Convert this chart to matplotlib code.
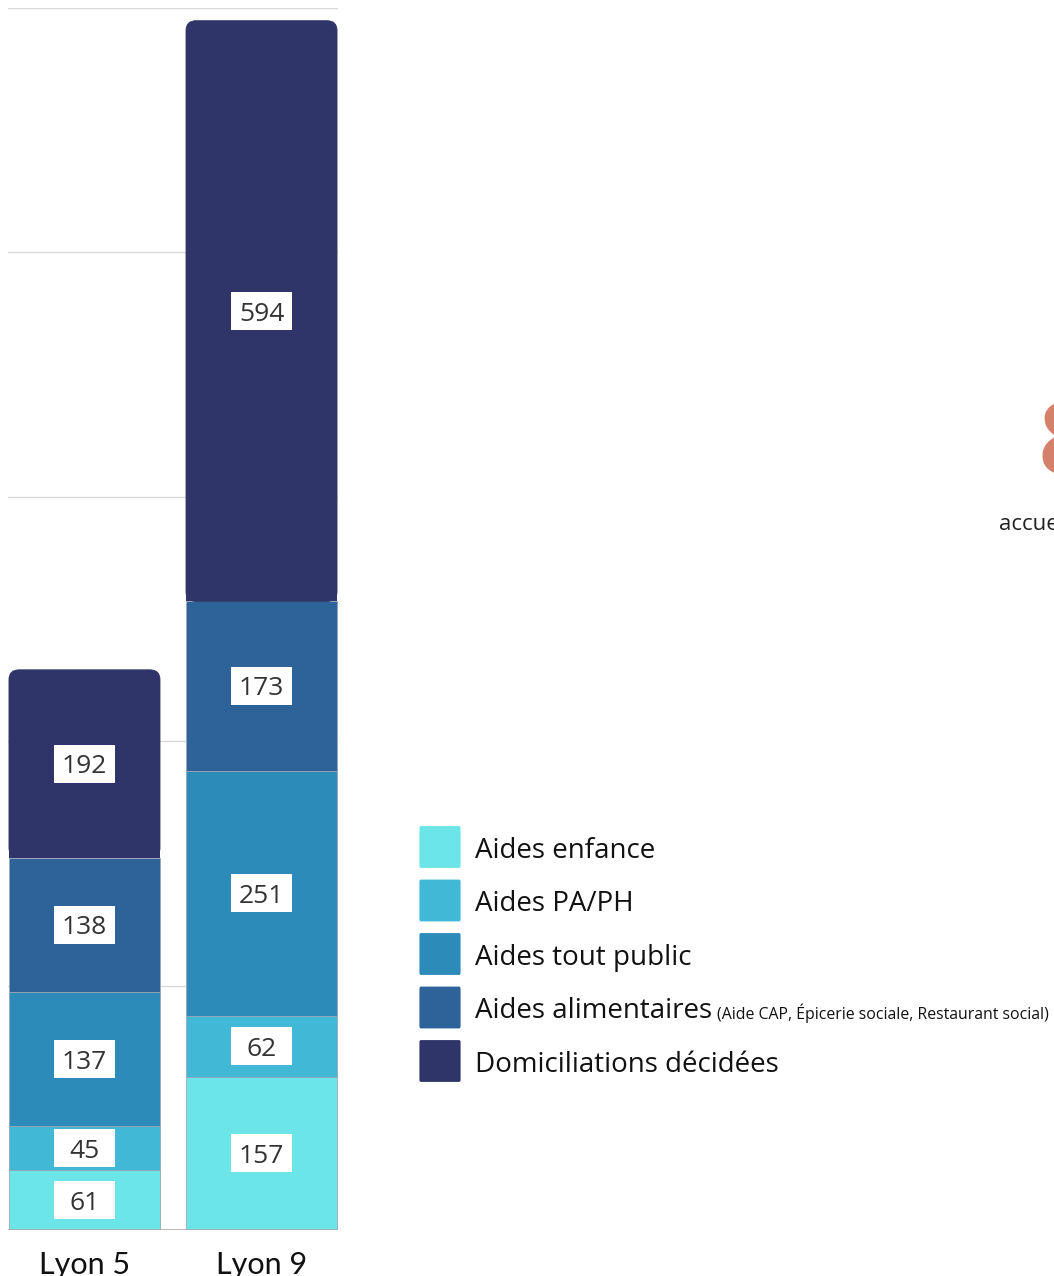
import numpy as np
import matplotlib.pyplot as plt
from matplotlib.patches import FancyBboxPatch, Rectangle

# data
sites = ['Lyon 5', 'Lyon 9']
series = ['Aides enfance', 'Aides PA/PH', 'Aides tout public',
          'Aides alimentaires', 'Domiciliations décidées']
enfance = [61, 157]
pa_ph = [45, 62]
tout_public = [137, 251]
alimentaires = [138, 173]
domiciliations = [192, 594]
values = [enfance, pa_ph, tout_public, alimentaires, domiciliations]
colors = ['#6BE5E8', '#40B8D6', '#2D8BBA', '#2E6399', '#2F3469']
alim_note = '(Aide CAP, Épicerie sociale, Restaurant social)'

W, H = 1054, 1276
fig = plt.figure(figsize=(W / 100, H / 100), dpi=100)
ax = fig.add_axes([8 / W, 46 / H, 330 / W, 1222 / H])
ax.set_xlim(-0.432, 1.432)
ax.set_ylim(0, 1250)

for g in [250, 500, 750, 1000, 1250]:
    ax.axhline(g, color='#d9d9d9', lw=1, zorder=0)

x = np.arange(len(sites))
bw = 0.853
px_x = 177.0          # pixels per x unit
px_y = 1222 / 1250    # pixels per y unit
bottom = np.zeros(len(sites))
for i, (vals, c) in enumerate(zip(values, colors)):
    vals = np.array(vals, dtype=float)
    for j in range(len(sites)):
        if i == len(values) - 1:
            # top segment with rounded top corners
            r = 10 / px_x
            patch = FancyBboxPatch((x[j] - bw / 2 + r, bottom[j] + r * 175),
                                   bw - 2 * r, vals[j] - 2 * r * 175,
                                   boxstyle=f'round,pad={r}',
                                   mutation_aspect=175,
                                   fc=c, ec=c, lw=0.6, zorder=2)
            ax.add_patch(patch)
            ax.bar(x[j], vals[j] / 2, bw, bottom=bottom[j], color=c,
                   zorder=2.1, lw=0)
        else:
            ax.bar(x[j], vals[j], bw, bottom=bottom[j], color=c,
                   edgecolor='#9aa6b5', lw=0.6, zorder=2)
        # value label in white box
        cy = bottom[j] + vals[j] / 2
        bxw = 61 / px_x
        bxh = 38 / px_y
        ax.add_patch(Rectangle((x[j] - bxw / 2, cy - bxh / 2), bxw, bxh,
                               fc='white', ec='none', zorder=3))
        ax.text(x[j], cy, f'{int(vals[j])}', ha='center', va='center_baseline',
                fontsize=19, color='#333333', family='Open Sans', zorder=4)
    bottom += vals

ax.axhline(0, color='#aaaaaa', lw=1.2, zorder=3)
for s in ax.spines.values():
    s.set_visible(False)
ax.set_yticks([])
ax.set_xticks(x)
ax.set_xticklabels(sites, fontsize=22, family='Lato', color='#111111')
ax.tick_params(axis='x', length=0, pad=15)

# legend
for k, (lab, c) in enumerate(zip(series, colors)):
    yc = 847 + k * 53.5
    fig.patches.append(FancyBboxPatch((421 / W, (H - yc - 19) / H), 38 / W, 38 / H,
                                      boxstyle='round,pad=0.0015',
                                      fc=c, ec='none', transform=fig.transFigure))
    fig.text(475 / W, (H - yc) / H, lab, fontsize=20, family='Open Sans',
             color='#111111', va='center_baseline')
    if lab == 'Aides alimentaires':
        fig.text(717 / W, (H - yc - 4) / H, alim_note, fontsize=11.4,
                 family='Open Sans', color='#111111', va='center_baseline')

# cropped neighbour panel
fig.text(1038 / W, (H - 448) / H, '8', fontsize=72, family='Open Sans',
         color='#D4806A', va='center', fontweight='bold')
fig.text(999 / W, (H - 524) / H, 'accue', fontsize=16, family='Open Sans',
         color='#222222', va='center')

fig.savefig('out.png', dpi=100)
